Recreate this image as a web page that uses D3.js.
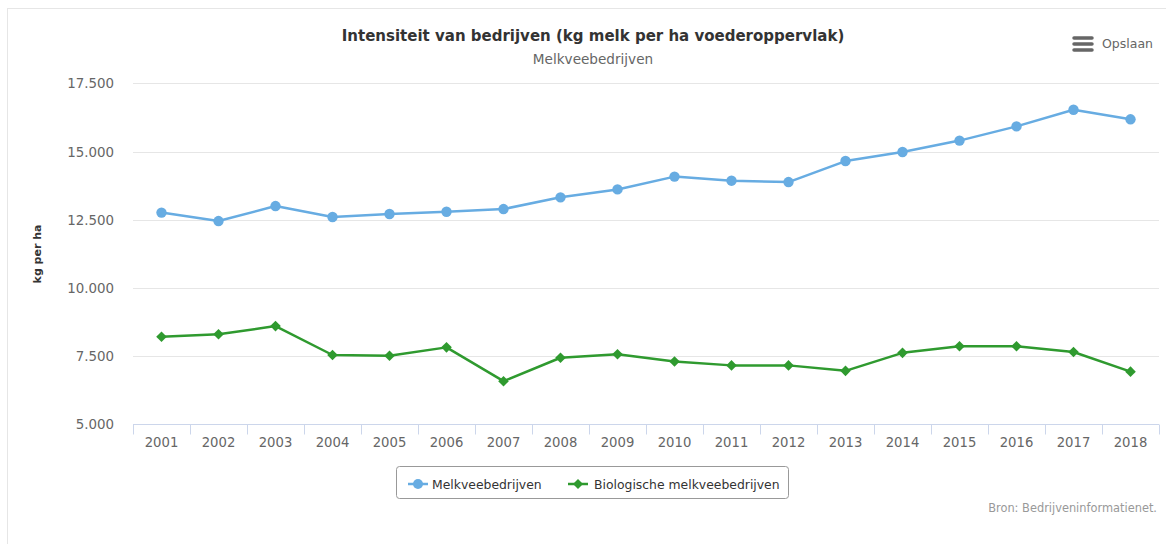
<!DOCTYPE html>
<html>
<head>
<meta charset="utf-8">
<script src="https://cdn.jsdelivr.net/npm/d3@7"></script>
<style>
  body { margin: 0; background: #fff; }
  svg { display: block; font-family: "DejaVu Sans", Verdana, sans-serif; }
</style>
</head>
<body>
<div id="chart"></div>
<script>
// ------------------------------------
// Data
// ------------------------------------
const years = ["2001", "2002", "2003", "2004", "2005", "2006", "2007", "2008", "2009",
  "2010", "2011", "2012", "2013", "2014", "2015", "2016", "2017", "2018"];

const melkvee = [12760, 12450, 13000, 12600, 12710, 12790, 12890, 13320, 13610,
  14080, 13930, 13880, 14650, 14980, 15400, 15920, 16530, 16180];

const biologisch = [8210, 8300, 8600, 7540, 7515, 7820, 6580, 7440, 7570,
  7300, 7160, 7160, 6960, 7620, 7860, 7860, 7650, 6930];

const yTicks = [5000, 7500, 10000, 12500, 15000, 17500];

const seriesNames = ["Melkveebedrijven", "Biologische melkveebedrijven"];

// ------------------------------------
// Layout
// ------------------------------------
const width = 1166, height = 544;
const plot = { left: 133, right: 1159, top: 83.3, bottom: 424.3 };
const blue = "#67ace2";
const green = "#2f9a2f";

const svg = d3.select("#chart").append("svg")
  .attr("width", width)
  .attr("height", height);

// container frame
svg.append("rect")
  .attr("x", 7.5).attr("y", 8.5)
  .attr("width", width).attr("height", height)
  .attr("fill", "none")
  .attr("stroke", "#e6e6e6");

const x = d3.scaleBand().domain(years).range([plot.left, plot.right]);
const y = d3.scaleLinear().domain([5000, 17500]).range([plot.bottom, plot.top]);
const cx = d => x(d) + x.bandwidth() / 2;

const nf = d3.formatLocale({ decimal: ",", thousands: ".", grouping: [3], currency: ["", ""] }).format(",");

// ------------------------------------
// Titles
// ------------------------------------
svg.append("text")
  .attr("x", 593).attr("y", 41)
  .attr("text-anchor", "middle")
  .style("font-size", "15px").style("font-weight", "bold")
  .attr("fill", "#333")
  .text("Intensiteit van bedrijven (kg melk per ha voederoppervlak)");

svg.append("text")
  .attr("x", 593).attr("y", 64)
  .attr("text-anchor", "middle")
  .style("font-size", "13.6px")
  .attr("fill", "#666")
  .text("Melkveebedrijven");

// Opslaan button
const btn = svg.append("g");
[38, 44, 50].forEach(yy => {
  btn.append("line")
    .attr("x1", 1074).attr("x2", 1092)
    .attr("y1", yy).attr("y2", yy)
    .attr("stroke", "#666").attr("stroke-width", 3.5)
    .attr("stroke-linecap", "round");
});
btn.append("text")
  .attr("x", 1102).attr("y", 48)
  .style("font-size", "12.5px")
  .attr("fill", "#666")
  .text("Opslaan");

// ------------------------------------
// Grid + y axis
// ------------------------------------
svg.append("g")
  .selectAll("line")
  .data(yTicks.slice(1))
  .join("line")
  .attr("x1", plot.left).attr("x2", plot.right)
  .attr("y1", d => Math.round(y(d)) + 0.5).attr("y2", d => Math.round(y(d)) + 0.5)
  .attr("stroke", "#e6e6e6");

svg.append("g")
  .selectAll("text")
  .data(yTicks)
  .join("text")
  .attr("x", 114).attr("y", d => y(d) + 5)
  .attr("text-anchor", "end")
  .style("font-size", "13.4px")
  .attr("fill", "#666")
  .text(d => nf(d));

svg.append("text")
  .attr("transform", "translate(41,254) rotate(-90)")
  .attr("text-anchor", "middle")
  .style("font-size", "11px").style("font-weight", "bold")
  .attr("fill", "#333")
  .text("kg per ha");

// ------------------------------------
// X axis
// ------------------------------------
const xb = Math.round(plot.bottom) + 0.5;
svg.append("line")
  .attr("x1", plot.left).attr("x2", plot.right)
  .attr("y1", xb).attr("y2", xb)
  .attr("stroke", "#ccd6eb");

svg.append("g")
  .selectAll("line")
  .data(years.concat(["end"]))
  .join("line")
  .attr("x1", (d, i) => Math.round(plot.left + i * x.bandwidth()) + 0.5)
  .attr("x2", (d, i) => Math.round(plot.left + i * x.bandwidth()) + 0.5)
  .attr("y1", xb).attr("y2", xb + 10)
  .attr("stroke", "#ccd6eb");

svg.append("g")
  .selectAll("text")
  .data(years)
  .join("text")
  .attr("x", d => cx(d)).attr("y", 447)
  .attr("text-anchor", "middle")
  .style("font-size", "13.2px")
  .attr("fill", "#666")
  .text(d => d);

// ------------------------------------
// Series
// ------------------------------------
const line = d3.line()
  .x((d, i) => cx(years[i]))
  .y(d => y(d));

const diamond = (px, py, r) => `M${px},${py - r}L${px + r},${py}L${px},${py + r}L${px - r},${py}Z`;

svg.append("path")
  .datum(melkvee)
  .attr("fill", "none").attr("stroke", blue).attr("stroke-width", 2.5)
  .attr("stroke-linejoin", "round")
  .attr("d", line);

svg.append("g")
  .selectAll("circle")
  .data(melkvee)
  .join("circle")
  .attr("cx", (d, i) => cx(years[i])).attr("cy", d => y(d))
  .attr("r", 5.2)
  .attr("fill", blue);

svg.append("path")
  .datum(biologisch)
  .attr("fill", "none").attr("stroke", green).attr("stroke-width", 2.5)
  .attr("stroke-linejoin", "round")
  .attr("d", line);

svg.append("g")
  .selectAll("path")
  .data(biologisch)
  .join("path")
  .attr("d", (d, i) => diamond(cx(years[i]), y(d), 5.3))
  .attr("fill", green);

// ------------------------------------
// Legend
// ------------------------------------
const lg = svg.append("g");
lg.append("rect")
  .attr("x", 396.5).attr("y", 466.5)
  .attr("width", 392).attr("height", 32)
  .attr("rx", 3)
  .attr("fill", "#fff").attr("stroke", "#999");

const items = [
  { name: seriesNames[0], color: blue, x0: 408, shape: "circle" },
  { name: seriesNames[1], color: green, x0: 568, shape: "diamond" }
];
items.forEach(it => {
  lg.append("line")
    .attr("x1", it.x0).attr("x2", it.x0 + 20)
    .attr("y1", 484).attr("y2", 484)
    .attr("stroke", it.color).attr("stroke-width", 2.5);
  if (it.shape === "circle") {
    lg.append("circle").attr("cx", it.x0 + 10).attr("cy", 484).attr("r", 5).attr("fill", it.color);
  } else {
    lg.append("path").attr("d", diamond(it.x0 + 10, 484, 5)).attr("fill", it.color);
  }
  lg.append("text")
    .attr("x", it.x0 + (it.shape === "circle" ? 24 : 26)).attr("y", 488.5)
    .style("font-size", "12.4px")
    .attr("fill", "#333")
    .text(it.name);
});

// Source
svg.append("text")
  .attr("x", 1157).attr("y", 512)
  .attr("text-anchor", "end")
  .style("font-size", "11.4px")
  .attr("fill", "#999")
  .text("Bron: Bedrijveninformatienet.");
</script>
</body>
</html>
